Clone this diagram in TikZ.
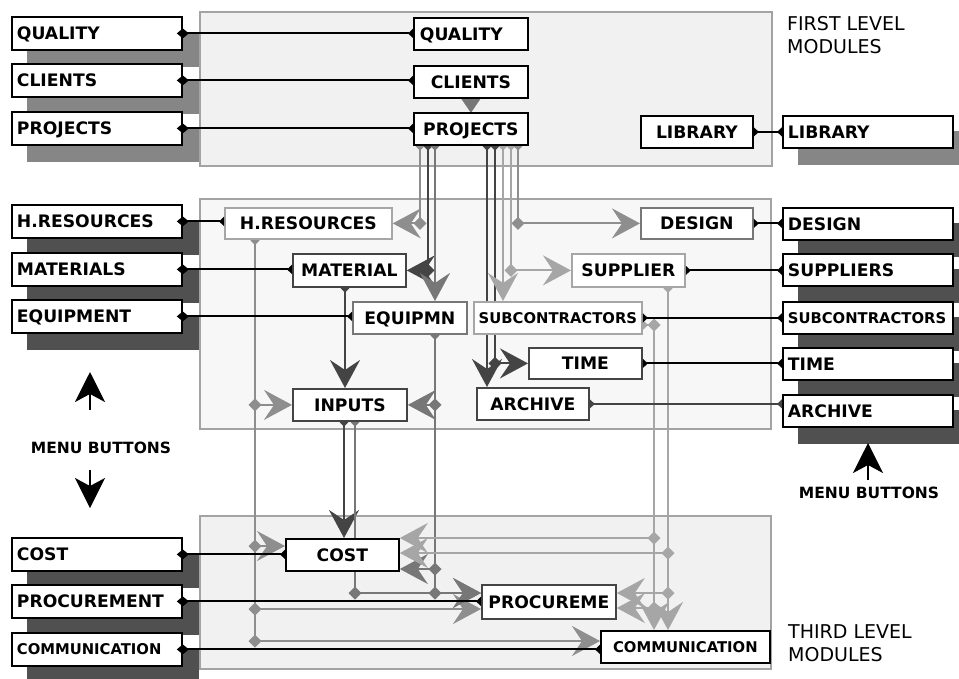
\documentclass[tikz,border=0pt]{standalone}
\usepackage{fontspec}
\setmainfont{DejaVu Sans}
\usetikzlibrary{arrows.meta}
\pgfdeclarelayer{back}
\pgfdeclarelayer{conn}
\pgfdeclarelayer{front}
\pgfsetlayers{back,conn,main,front}
\definecolor{panelA}{HTML}{F1F1F1}
\definecolor{panelB}{HTML}{F7F7F7}
\definecolor{panelline}{HTML}{A3A3A3}
\definecolor{shadeA}{HTML}{868686}
\definecolor{shadeB}{HTML}{505050}
\definecolor{cdk}{HTML}{444444}
\definecolor{cmd}{HTML}{777777}
\definecolor{cgr}{HTML}{8E8E8E}
\definecolor{clt}{HTML}{A6A6A6}
\newcommand\gdiam[2]{\fill[#1] (#2) +(-6.5,0) -- +(0,-6.5) -- +(6.5,0) -- +(0,6.5) -- cycle;}
\newcommand\shd[2]{\fill[#1] ([shift={(16,16)}]#2.north west) rectangle ([shift={(16,16)}]#2.south east);}
\tikzset{
  stub/.tip={Triangle[reversed,length=5pt,width=9pt]},
  bigarr/.tip={Stealth[length=28pt,width=30pt,inset=10pt]},
  dia/.tip={Diamond[length=12pt,width=10pt]},
  ctri/.tip={Triangle[reversed,length=14pt,width=19pt]},
  mtip/.tip={Stealth[length=30pt,width=30pt,inset=8pt]},
  bigf/.style={font=\fontsize{17.2}{19}\selectfont\bfseries, text height=12.5pt, text depth=0pt},
  smallf/.style={font=\fontsize{14.8}{17}\selectfont\bfseries, text height=10.8pt, text depth=0pt},
  box/.style={draw=black, line width=1.8pt, fill=white, inner sep=0pt, anchor=north west, bigf},
  menubox/.style={box, minimum height=33pt, text width=160pt, align=left, inner xsep=5pt},
  panel/.style={draw=panelline, line width=1.8pt, anchor=north west, inner sep=0pt},
  gc/.style={draw=#1, line width=2pt, arrows=stub-bigarr},
  mlink/.style={draw=black, line width=2pt, arrows=dia-stub, shorten <=-6pt},
  rlink/.style={draw=black, line width=2pt, arrows=stub-stub},
  menuarr/.style={draw=black, line width=1.8pt, arrows=-mtip},
  lvl/.style={font=\fontsize{19}{23}\selectfont, align=left, anchor=north west, inner sep=0pt},
  mbtn/.style={font=\fontsize{15.5}{17}\selectfont\bfseries, inner sep=0pt}
}
\begin{document}
\begin{tikzpicture}[x=1pt,y=-1pt]
\useasboundingbox (0,0) rectangle (959,678);
% panels
\begin{pgfonlayer}{back}
\node[panel, fill=panelA, minimum width=572pt, minimum height=154pt] (P1) at (199,11) {};
\node[panel, fill=panelB, minimum width=571pt, minimum height=230pt] (P2) at (199,198) {};
\node[panel, fill=panelA, minimum width=571pt, minimum height=153pt] (P3) at (199,515) {};
\end{pgfonlayer}
% menu boxes left
\node[menubox] (mQ) at (11,16) {QUALITY};
\node[menubox] (mC) at (11,63) {CLIENTS};
\node[menubox] (mP) at (11,111) {PROJECTS};
\node[menubox] (mH) at (11,204) {H.RESOURCES};
\node[menubox] (mM) at (11,252) {MATERIALS};
\node[menubox] (mE) at (11,299) {EQUIPMENT};
\node[menubox] (mCo) at (11,537) {COST};
\node[menubox] (mPr) at (11,584) {PROCUREMENT};
\node[menubox, smallf] (mCm) at (11,632) {COMMUNICATION};
% menu boxes right
\node[menubox, minimum height=32pt] (rL) at (782,115) {LIBRARY};
\node[menubox, minimum height=32pt] (rD) at (782,207) {DESIGN};
\node[menubox, minimum height=32pt] (rS) at (782,253) {SUPPLIERS};
\node[menubox, minimum height=32pt, smallf] (rSub) at (782,301) {SUBCONTRACTORS};
\node[menubox, minimum height=32pt] (rT) at (782,347) {TIME};
\node[menubox, minimum height=32pt] (rA) at (782,394) {ARCHIVE};
% first level modules
\node[box, minimum height=32pt, text width=102pt, align=left, inner xsep=6pt] (iQ) at (413,17) {QUALITY};
\node[box, minimum width=114pt, minimum height=32pt] (iC) at (413,65) {CLIENTS};
\node[box, minimum width=114pt, minimum height=32pt] (iP) at (413,112) {PROJECTS};
\node[box, minimum width=112pt, minimum height=32pt] (iL) at (640,115) {LIBRARY};
% second level modules
\node[box, draw=clt, minimum width=167pt, minimum height=31pt] (iHR) at (224,207) {H.RESOURCES};
\node[box, draw=cdk, minimum width=113pt, minimum height=33pt] (iMat) at (292,253) {MATERIAL};
\node[box, draw=cmd, minimum width=114pt, minimum height=32pt] (iEq) at (352,301) {EQUIPMN};
\node[box, draw=cdk, minimum width=114pt, minimum height=32pt] (iIn) at (292,388) {INPUTS};
\node[box, draw=clt, smallf, minimum width=168pt, minimum height=32pt] (iSub) at (473,301) {SUBCONTRACTORS};
\node[box, draw=cdk, minimum width=113pt, minimum height=31pt] (iT) at (528,347) {TIME};
\node[box, draw=cdk, minimum width=112pt, minimum height=32pt] (iA) at (476,387) {ARCHIVE};
\node[box, draw=cmd, minimum width=112pt, minimum height=31pt] (iD) at (640,207) {DESIGN};
\node[box, draw=clt, minimum width=113pt, minimum height=33pt] (iS) at (571,253) {SUPPLIER};
% third level modules
\node[box, minimum width=113pt, minimum height=32pt] (iCo) at (285,538) {COST};
\node[box, draw=cdk, minimum width=134pt, minimum height=34pt] (iPr) at (481,584) {PROCUREME};
\node[box, smallf, minimum width=169pt, minimum height=32pt] (iCm) at (600,630) {COMMUNICATION};
% texts
\node[lvl] (t1) at (787,16) {FIRST LEVEL\\MODULES};
\node[lvl] (t3) at (788,624) {THIRD LEVEL\\MODULES};
\node[mbtn] (mb1) at (101,448) {MENU BUTTONS};
\node[mbtn] (mb2) at (869,493) {MENU BUTTONS};
% menu arrows
\coordinate (ua0) at (90,410); \coordinate (ua1) at (90,372);
\coordinate (da0) at (90,470); \coordinate (da1) at (90,508);
\coordinate (ra0) at (868,480); \coordinate (ra1) at (868,443);
\draw[menuarr] (ua0) -- (ua1);
\draw[menuarr] (da0) -- (da1);
\draw[menuarr] (ra0) -- (ra1);
% shadows
\begin{pgfonlayer}{back}
\shd{shadeA}{mQ}\shd{shadeA}{mC}\shd{shadeA}{mP}\shd{shadeA}{rL}
\shd{shadeB}{mH}\shd{shadeB}{mM}\shd{shadeB}{mE}
\shd{shadeB}{mCo}\shd{shadeB}{mPr}\shd{shadeB}{mCm}
\shd{shadeB}{rD}\shd{shadeB}{rS}\shd{shadeB}{rSub}\shd{shadeB}{rT}\shd{shadeB}{rA}
\end{pgfonlayer}
% helper coordinates
\foreach \v in {255,344,345,355,420,428,435,487,495,503,511,518,654,668}{\coordinate (X\v) at (\v,0);}
\foreach \v in {325,538,546,553,569,593,608,609,641}{\coordinate (Y\v) at (0,\v);}
% gray connectors
\begin{pgfonlayer}{conn}
\draw[gc=cgr] (iP.south -| X420) |- (iHR.east);
\draw[gc=cdk] (iP.south -| X428) |- (iMat.east);
\draw[gc=cmd] (iP.south -| X435) -- (iEq.north -| X435);
\draw[gc=cdk] (iP.south -| X487) -- (iA.north -| X487);
\draw[gc=cdk] (iP.south -| X495) |- (iT.west);
\draw[gc=clt] (iP.south -| X503) -- (iSub.north -| X503);
\draw[gc=clt] (iP.south -| X511) |- (iS.west);
\draw[gc=cgr] (iP.south -| X518) |- (iD.west);
\draw[gc=cgr] (iHR.south -| X255) |- (iIn.west);
\draw[gc=cgr] (iHR.south -| X255) |- (iCo.west |- Y546);
\draw[gc=cgr] (iHR.south -| X255) |- (iPr.west |- Y609);
\draw[gc=cgr] (iHR.south -| X255) |- (iCm.west |- Y641);
\draw[gc=cdk] (iMat.south -| X345) -- (iIn.north -| X345);
\draw[gc=cmd] (iEq.south -| X435) |- (iIn.east);
\draw[gc=cmd] (iEq.south -| X435) |- (iCo.east |- Y569);
\draw[gc=cmd] (iEq.south -| X435) |- (iPr.west |- Y593);
\draw[gc=cdk] (iIn.south -| X344) -- (iCo.north -| X344);
\draw[gc=cmd] (iIn.south -| X355) |- (iPr.west |- Y593);
\draw[gc=clt] (iSub.east |- Y325) -- (X654 |- Y325) |- (iCo.east |- Y538);
\draw[gc=clt] (iSub.east |- Y325) -- (X654 |- Y325) |- (iPr.east |- Y608);
\draw[gc=clt] (iSub.east |- Y325) -- (X654 |- Y325) -- (iCm.north -| X654);
\draw[gc=clt] (iS.south -| X668) |- (iCo.east |- Y553);
\draw[gc=clt] (iS.south -| X668) |- (iPr.east |- Y593);
\draw[gc=clt] (iS.south -| X668) -- (iCm.north -| X668);
\draw[cmd, line width=0.5pt, arrows=ctri-] (iC.south) -- (iP.north);
% diamonds at bends
\gdiam{cgr}{X420 |- iHR.east}
\gdiam{cdk}{X428 |- iMat.east}
\gdiam{cdk}{X495 |- iT.west}
\gdiam{clt}{X511 |- iS.west}
\gdiam{cgr}{X518 |- iD.west}
\gdiam{cgr}{X255 |- iIn.west}
\gdiam{cgr}{X255 |- Y546}
\gdiam{cgr}{X255 |- Y609}
\gdiam{cgr}{X255 |- Y641}
\gdiam{cmd}{X435 |- iIn.east}
\gdiam{cmd}{X435 |- Y569}
\gdiam{cmd}{X435 |- Y593}
\gdiam{cmd}{X355 |- Y593}
\gdiam{clt}{X654 |- Y325}
\gdiam{clt}{X654 |- Y538}
\gdiam{clt}{X654 |- Y608}
\gdiam{clt}{X668 |- Y553}
\gdiam{clt}{X668 |- Y593}
\end{pgfonlayer}
% black links
\begin{pgfonlayer}{front}
\draw[mlink] (mQ.east) -- (mQ.east -| iQ.west);
\draw[mlink] (mC.east) -- (mC.east -| iC.west);
\draw[mlink] (mP.east) -- (mP.east -| iP.west);
\draw[mlink] (mH.east) -- (mH.east -| iHR.west);
\draw[mlink] (mM.east) -- (mM.east -| iMat.west);
\draw[mlink] (mE.east) -- (mE.east -| iEq.west);
\draw[mlink] (mCo.east) -- (mCo.east -| iCo.west);
\draw[mlink] (mPr.east) -- (mPr.east -| iPr.west);
\draw[mlink] (mCm.east) -- (mCm.east -| iCm.west);
\draw[rlink] (iL.east) -- (iL.east -| rL.west);
\draw[rlink] (iD.east) -- (iD.east -| rD.west);
\draw[rlink] (iS.east) -- (iS.east -| rS.west);
\draw[rlink] (iSub.east) -- (iSub.east -| rSub.west);
\draw[rlink] (iT.east) -- (iT.east -| rT.west);
\draw[rlink, draw=cdk] (iA.east) -- (iA.east -| rA.west);
\end{pgfonlayer}
\end{tikzpicture}
\end{document}
